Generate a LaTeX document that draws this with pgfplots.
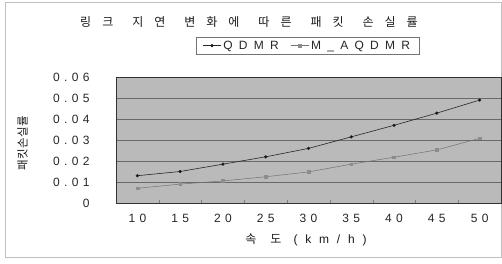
\documentclass[border=0pt]{standalone}
\usepackage{fontspec}
\setmainfont{Liberation Sans}
\newfontfamily\spfont{Liberation Sans}[LetterSpace=36]
\newfontfamily\wspfont{Liberation Sans}[LetterSpace=52]
\newfontfamily\xspfont{Liberation Sans}[LetterSpace=65]
\newfontfamily\krfont{Noto Sans CJK KR}
\usepackage{pgfplots}
\pgfplotsset{compat=1.18}
\definecolor{bg}{RGB}{186,186,186}
\definecolor{grid}{RGB}{105,105,105}
\newcommand{\ws}{\hspace{19pt}}
\newcommand{\cs}{\hspace{11pt}}
\begin{document}
\begin{tikzpicture}[x=1pt,y=1pt]
\useasboundingbox (0,0) rectangle (502,263);
\draw[gray!50, line width=0.6pt] (5,6) rectangle (501,261);
\begin{axis}[
  at={(116pt,60pt)}, anchor=south west,
  scale only axis, width=385pt, height=126pt,
  xmin=-0.5, xmax=8.5, ymin=0, ymax=0.06,
  scaled y ticks=false,
  axis background/.style={fill=bg},
  axis line style={draw=black!80, line width=0.5pt},
  xtick={0,...,8},
  xticklabels={10,15,20,25,30,35,40,45,50},
  minor xtick={0.5,1.5,...,7.5},
  major tick length=0pt, minor tick length=3pt,
  tick align=inside, xtick pos=bottom,
  ytick={0,0.01,...,0.06},
  yticklabels={0,0.01,0.02,0.03,0.04,0.05,0.06},
  ytick style={draw=none},
  ymajorgrids, grid style={draw=grid, line width=0.5pt},
  ticklabel style={font=\spfont\fontsize{12}{13}\selectfont, text=black!85},
  yticklabel shift={23pt},
  xticklabel shift={8pt},
  legend columns=2,
  legend style={at={(0.497,1.318)}, anchor=north, draw=black!55,
    font=\wspfont\fontsize{12}{13}\selectfont, text=black!85,
    inner xsep=7pt, inner ysep=1.5pt, /tikz/every even column/.append style={column sep=10pt}},
  legend image code/.code={
    \draw[#1] (0pt,0pt) -- (18pt,0pt);
    \draw[#1, only marks] plot coordinates {(9pt,0pt)};
  },
  legend cell align=left,
]
\addplot[black!85, line width=0.6pt, mark=*, mark size=1.3pt, mark options={fill=black}]
 coordinates {(0,0.013)(1,0.015)(2,0.0185)(3,0.022)(4,0.026)(5,0.0315)(6,0.037)(7,0.0428)(8,0.049)};
\addlegendentry{QDMR}
\addplot[black!55, line width=0.5pt, mark=square*, mark size=1.4pt, mark options={fill=black!45, draw=black!45}]
 coordinates {(0,0.007)(1,0.009)(2,0.0105)(3,0.0125)(4,0.0148)(5,0.0185)(6,0.0218)(7,0.0253)(8,0.0308)};
\addlegendentry{M\_AQDMR}
\end{axis}
\node[font=\krfont\fontsize{12}{13}\selectfont, text=black!90, inner sep=0pt] at (249,241)
  {링\cs 크\ws 지\cs 연\ws 변\cs 화\cs 에\ws 따\cs 른\ws 패\cs 킷\ws 손\cs 실\cs 률};
\node[font=\krfont\fontsize{11.5}{12}\selectfont, text=black!90, rotate=90, inner sep=0pt] at (22.5,120)
  {패\hspace{0.5pt}킷\hspace{0.5pt}손\hspace{0.5pt}실\hspace{0.5pt}률};
\node[font=\krfont\fontsize{12}{13}\selectfont, text=black!90, inner sep=0pt] at (306,23)
  {속\hspace{14pt}도\hspace{12pt}{\xspfont(km/h)}};
\end{tikzpicture}
\end{document}
